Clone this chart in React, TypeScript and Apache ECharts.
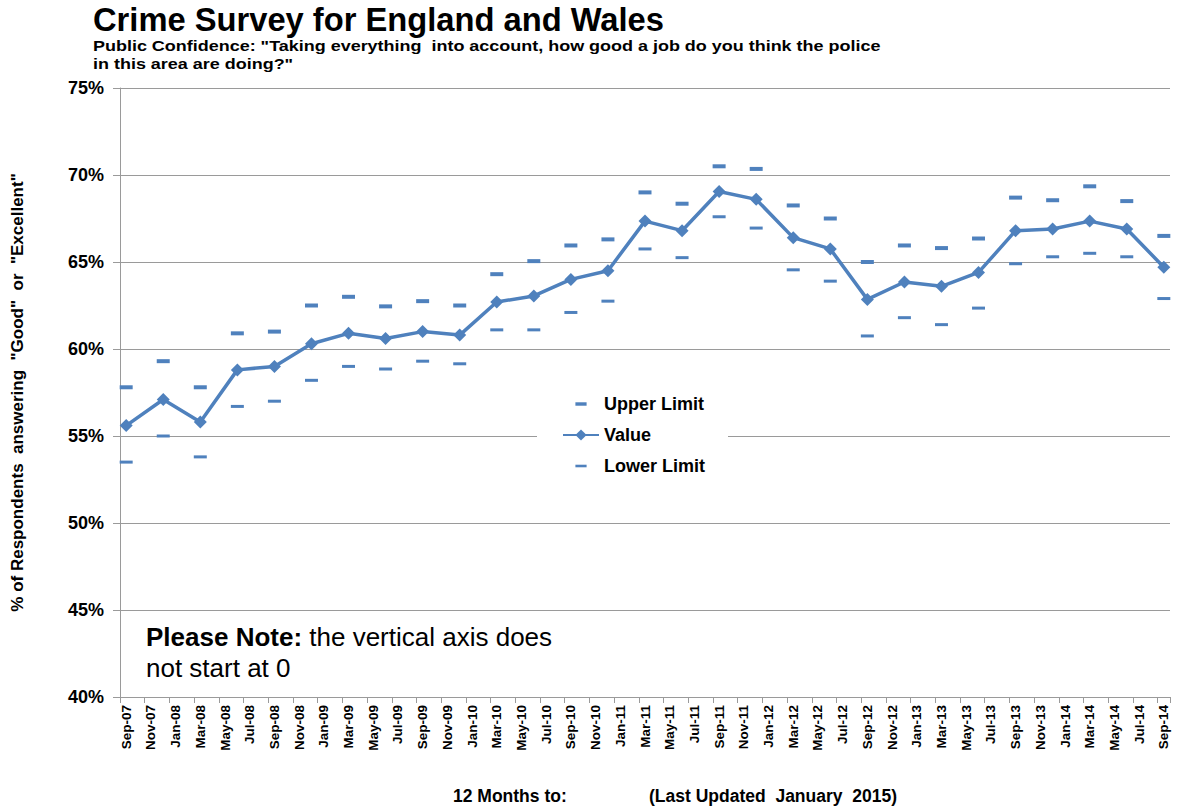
import React, { useEffect, useRef } from 'react';
import * as echarts from 'echarts';

// Quarterly observations (12 months to ...)
const quarters = [
  'Sep-07', 'Dec-07', 'Mar-08', 'Jun-08', 'Sep-08', 'Dec-08', 'Mar-09', 'Jun-09', 'Sep-09', 'Dec-09',
  'Mar-10', 'Jun-10', 'Sep-10', 'Dec-10', 'Mar-11', 'Jun-11', 'Sep-11', 'Dec-11', 'Mar-12', 'Jun-12',
  'Sep-12', 'Dec-12', 'Mar-13', 'Jun-13', 'Sep-13', 'Dec-13', 'Mar-14', 'Jun-14', 'Sep-14',
];
const values = [
  55.6, 57.1, 55.8, 58.8, 59.0, 60.3, 60.9, 60.6, 61.0, 60.8,
  62.7, 63.05, 64.0, 64.5, 67.35, 66.8, 69.05, 68.6, 66.4, 65.75,
  62.85, 63.85, 63.6, 64.4, 66.8, 66.9, 67.35, 66.9, 64.7,
];
const upperLimit = [
  57.8, 59.3, 57.8, 60.9, 61.0, 62.5, 63.0, 62.45, 62.75, 62.5,
  64.3, 65.05, 65.95, 66.3, 69.0, 68.35, 70.5, 70.35, 68.25, 67.5,
  65.0, 65.95, 65.8, 66.35, 68.7, 68.55, 69.35, 68.5, 66.5,
];
const lowerLimit = [
  53.5, 55.0, 53.8, 56.7, 57.0, 58.2, 59.0, 58.85, 59.3, 59.15,
  61.1, 61.1, 62.1, 62.75, 65.75, 65.25, 67.6, 66.95, 64.55, 63.9,
  60.75, 61.8, 61.4, 62.35, 64.9, 65.3, 65.5, 65.3, 62.9,
];

// Monthly date-axis categories, Sep-07 .. Sep-14 (labels shown every 2 months)
const monthNames = ['Jan', 'Feb', 'Mar', 'Apr', 'May', 'Jun', 'Jul', 'Aug', 'Sep', 'Oct', 'Nov', 'Dec'];
const axisStart = { year: 2007, month: 8 };
const axisMonthCount = 85;

const yTicks = { min: 40, max: 75, interval: 5 };

const seriesNames = ['Upper Limit', 'Value', 'Lower Limit'];
const titleText = 'Crime Survey for England and Wales';
const subtitleLines = [
  'Public Confidence: "Taking everything  into account, how good a job do you think the police',
  'in this area are doing?"',
];
const yAxisTitle = '% of Respondents  answering  "Good"  or  "Excellent"';
const xAxisTitles = ['12 Months to:', '(Last Updated  January  2015)'];

function buildMonths(): string[] {
  const out: string[] = [];
  for (let i = 0; i < axisMonthCount; i++) {
    const m = (axisStart.month + i) % 12;
    const y = axisStart.year + Math.floor((axisStart.month + i) / 12);
    out.push(monthNames[m] + '-' + String(y % 100).padStart(2, '0'));
  }
  return out;
}

const FONT = '"Liberation Sans", Arial, Helvetica, sans-serif';
const BLUE = '#4F81BD';
const GRID = '#9A9A9A';
const UPPER_DASH = 'path://M0,0M0,4.5h13v4h-13zM13,13';
const LOWER_DASH = 'path://M0,0M0,5h13v3h-13zM13,13';

export default function App() {
  const ref = useRef<HTMLDivElement>(null);
  useEffect(() => {
    if (!ref.current) return;
    const chart = echarts.init(ref.current, null, { renderer: 'svg' });
    const months = buildMonths();
    const pair = (arr: number[]) => quarters.map((q, i) => [q, arr[i]]);

    chart.setOption({
      animation: false,
      backgroundColor: '#fff',
      textStyle: { fontFamily: FONT },
      grid: { left: 120, top: 88, width: 1050, height: 609, containLabel: false },
      xAxis: {
        type: 'category',
        data: months,
        boundaryGap: true,
        axisLine: { show: true, lineStyle: { color: GRID, width: 1 } },
        axisTick: { show: true, interval: 1, length: 6, lineStyle: { color: GRID } },
        axisLabel: {
          interval: 1, rotate: 90, fontSize: 13.5, fontWeight: 'bold', color: '#000',
          margin: 8, fontFamily: FONT,
        },
        splitLine: { show: false },
      },
      yAxis: {
        type: 'value',
        min: yTicks.min, max: yTicks.max, interval: yTicks.interval,
        name: yAxisTitle,
        nameLocation: 'middle',
        nameRotate: 90,
        nameGap: 94,
        nameTextStyle: { fontSize: 17, fontWeight: 'bold', color: '#000', fontFamily: FONT },
        axisLine: { show: true, lineStyle: { color: GRID } },
        axisTick: { show: true, length: 7, lineStyle: { color: GRID } },
        axisLabel: { formatter: '{value}%', fontSize: 18, fontWeight: 'bold', color: '#000', margin: 16, fontFamily: FONT },
        splitLine: { show: true, lineStyle: { color: GRID, width: 1 } },
      },
      legend: {
        orient: 'vertical',
        left: 537,
        top: 385,
        padding: [10, 23, 10, 25],
        backgroundColor: '#fff',
        itemWidth: 36,
        itemHeight: 14,
        itemGap: 13,
        textStyle: { fontSize: 18, fontWeight: 'bold', color: '#000', fontFamily: FONT },
        data: [
          { name: seriesNames[0], lineStyle: { opacity: 0, width: 0 } },
          { name: seriesNames[1] },
          { name: seriesNames[2], lineStyle: { opacity: 0, width: 0 } },
        ],
      },
      series: [
        {
          name: seriesNames[0], type: 'line', data: pair(upperLimit),
          symbol: UPPER_DASH, symbolSize: 13, showAllSymbol: true,
          lineStyle: { width: 0, opacity: 0 }, itemStyle: { color: BLUE },
          emphasis: { disabled: true }, z: 3,
        },
        {
          name: seriesNames[1], type: 'line', data: pair(values),
          symbol: 'diamond', symbolSize: 13, showAllSymbol: true,
          lineStyle: { width: 3.5, color: BLUE }, itemStyle: { color: BLUE },
          emphasis: { disabled: true }, z: 4,
        },
        {
          name: seriesNames[2], type: 'line', data: pair(lowerLimit),
          symbol: LOWER_DASH, symbolSize: 13, showAllSymbol: true,
          lineStyle: { width: 0, opacity: 0 }, itemStyle: { color: BLUE },
          emphasis: { disabled: true }, z: 3,
        },
      ],
      graphic: [
        {
          type: 'text', x: 93, y: 19.5,
          style: { text: titleText, fontSize: 32.7, fontWeight: 'bold', fontFamily: FONT, fill: '#000', verticalAlign: 'middle' },
        },
        {
          type: 'text', x: 93, y: 46, scaleX: 1.16,
          style: { text: subtitleLines[0], fontSize: 15.5, fontWeight: 'bold', fontFamily: FONT, fill: '#000', verticalAlign: 'middle' },
        },
        {
          type: 'text', x: 93, y: 64, scaleX: 1.16,
          style: { text: subtitleLines[1], fontSize: 15.5, fontWeight: 'bold', fontFamily: FONT, fill: '#000', verticalAlign: 'middle' },
        },
        {
          type: 'text', x: 146, y: 621.5,
          style: {
            text: '{b|Please Note:} the vertical axis does\nnot start at 0',
            fontSize: 26, lineHeight: 31, fontFamily: FONT, fill: '#000', verticalAlign: 'top',
            rich: { b: { fontSize: 26, lineHeight: 31, fontWeight: 'bold', fontFamily: FONT, fill: '#000' } },
          },
        },
        {
          type: 'text', x: 453, y: 796,
          style: { text: xAxisTitles[0], fontSize: 17.5, fontWeight: 'bold', fontFamily: FONT, fill: '#000', verticalAlign: 'middle' },
        },
        {
          type: 'text', x: 649, y: 796,
          style: { text: xAxisTitles[1], fontSize: 17.5, fontWeight: 'bold', fontFamily: FONT, fill: '#000', verticalAlign: 'middle' },
        },
      ],
    });
    return () => chart.dispose();
  }, []);
  return (
    <div
      ref={ref}
      style={{ position: 'absolute', left: 0, top: 0, width: 1182, height: 807, background: '#fff' }}
    />
  );
}
